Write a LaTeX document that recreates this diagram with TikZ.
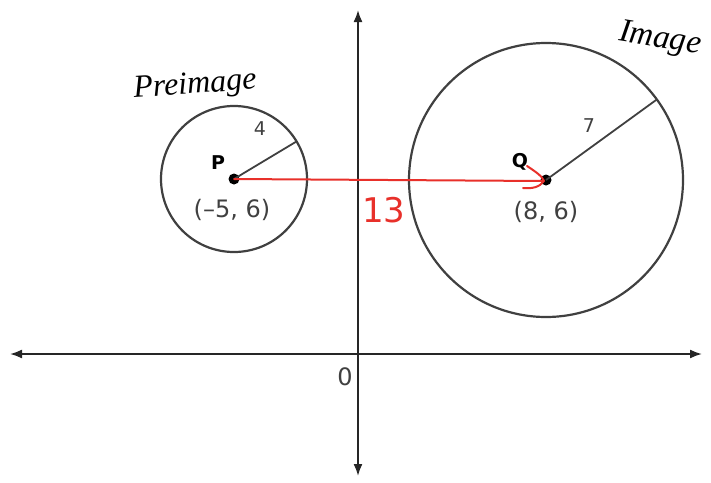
\documentclass[tikz,border=0pt]{standalone}
\usepackage{fontspec}
\setmainfont{DejaVu Sans}
\newfontfamily\handfont{Liberation Serif}
\usetikzlibrary{arrows.meta}
\definecolor{pen}{HTML}{E8302A}
\tikzset{
  axis/.style={draw=black!85, line width=1.8pt, {Latex[length=12pt,width=9pt]}-{Latex[length=12pt,width=9pt]}},
  circ/.style={draw=black!75, line width=2.2pt},
  radius line/.style={draw=black!75, line width=1.8pt},
  lbl/.style={font=\fontsize{24}{26}\selectfont, text=black!75, inner sep=0pt},
  bold lbl/.style={font=\fontsize{19}{21}\selectfont\bfseries, text=black, inner sep=0pt},
  hand/.style={font=\handfont\itshape\fontsize{32}{34}\selectfont, inner sep=0pt},
  redline/.style={draw=pen, line width=2pt, line cap=round, line join=round},
  dot/.style={circle, fill=black, inner sep=0pt, minimum size=11pt}
}
\begin{document}
\begin{tikzpicture}[x=1pt,y=-1pt]
\useasboundingbox (0,0) rectangle (711,482);
% axes
\coordinate (xl) at (10,354);
\coordinate (xr) at (702,354);
\coordinate (yt) at (358,10);
\coordinate (yb) at (358,476);
\draw[axis] (xl) -- (xr);
\draw[axis] (yb) -- (yt);
\node[lbl] (zero) at (345,377) {0};
% centers
\node[dot] (P) at (234,179) {};
\node[dot] (Q) at (546,180) {};
% circles
\draw[circ] (P) circle[radius=73];
\draw[circ] (Q) circle[radius=137];
% radii
\draw[radius line] (P.center) -- ++(-31:73) coordinate (rP);
\draw[radius line] (Q.center) -- ++(-36:137) coordinate (rQ);
\node[lbl, font=\fontsize{19}{21}\selectfont] (four) at (260,129) {4};
\node[lbl, font=\fontsize{19}{21}\selectfont] (seven) at (589,126) {7};
% labels
\node[bold lbl] (Plab) at (218,163) {P};
\node[lbl] (Pco) at (232,210) {(–5, 6)};
\node[bold lbl] (Qlab) at (520,162) {Q};
\node[lbl] (Qco) at (546,212) {(8, 6)};
% red arrow
\coordinate (tip) at (543,181);
\draw[redline] (P.center) -- (tip);
\draw[redline] (527,166) .. controls (536,172) and (542,176) .. (544,181) .. controls (540,187) and (532,189) .. (523,188);
\node[text=pen, inner sep=0pt, font=\fontsize{34}{36}\selectfont] (thirteen) at (384,210) {13};
% handwritten
\node[hand, rotate=4] (pre) at (195,86) {Preimage};
\node[hand, rotate=-9, font=\handfont\itshape\fontsize{33}{35}\selectfont] (img) at (660,40) {Image};
\end{tikzpicture}
\end{document}
